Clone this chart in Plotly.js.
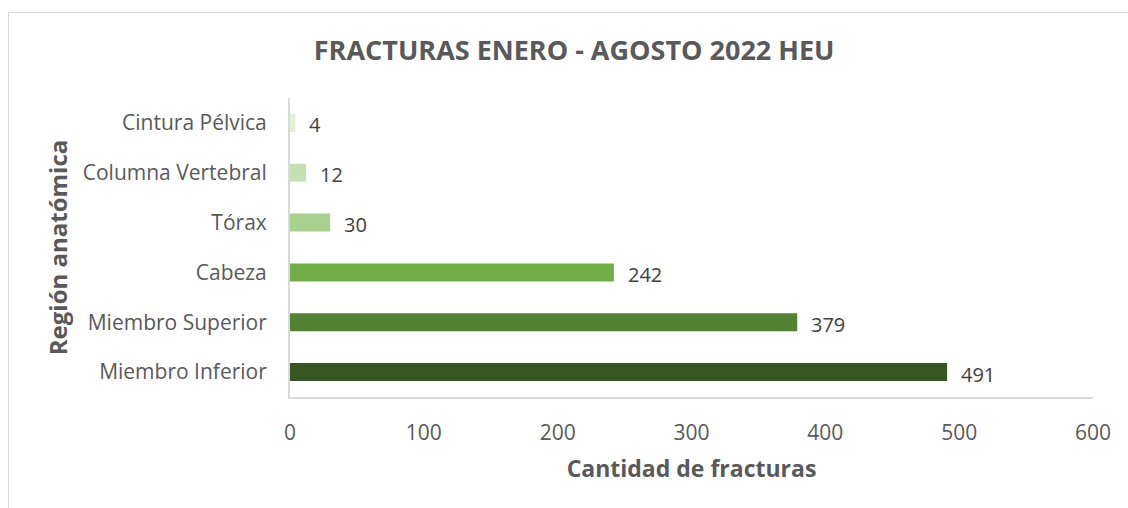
<!DOCTYPE html>
<html>
<head>
<meta charset="utf-8">
<script src="https://cdn.plot.ly/plotly-3.0.1.min.js"></script>
<style>
  html, body { margin: 0; padding: 0; background: #fff; }
  #wrap { position: relative; width: 1128px; height: 508px; overflow: hidden; }
  #chart { position: absolute; left: 0; top: 0; width: 1128px; height: 508px; }
  #frame { position: absolute; left: 8px; top: 12px; width: 1130px; height: 510px; border: 1px solid #d9d9d9; pointer-events: none; }
</style>
</head>
<body>
<div id="wrap">
  <div id="chart"></div>
  <div id="frame"></div>
</div>
<script>
const categories = ["Miembro Inferior", "Miembro Superior", "Cabeza", "Tórax", "Columna Vertebral", "Cintura Pélvica"];
const values = [491, 379, 242, 30, 12, 4];
const barColors = ["#385723", "#548235", "#70ad47", "#a9d18e", "#c5e0b3", "#e2efd9"];
const xTicks = [0, 100, 200, 300, 400, 500, 600];

const FONT = "'Open Sans', 'Noto Sans', sans-serif";

const trace = {
  type: "bar",
  orientation: "h",
  x: values,
  y: categories,
  marker: { color: barColors },
  width: 0.36,
  hoverinfo: "none"
};

const annotations = values.map((v, i) => ({
  x: v, y: categories[i], xref: "x", yref: "y",
  text: String(v), showarrow: false, xanchor: "left", yanchor: "middle",
  xshift: 12, yshift: -2,
  font: { family: FONT, size: 20, color: "#404040" }
}));

const layout = {
  width: 1128, height: 508,
  margin: { l: 290, r: 35, t: 98, b: 111 },
  paper_bgcolor: "#ffffff", plot_bgcolor: "#ffffff",
  showlegend: false,
  title: {
    text: "<b>FRACTURAS ENERO - AGOSTO 2022 HEU</b>",
    x: 0.509, xanchor: "center", y: 0.9, yanchor: "middle",
    font: { family: FONT, size: 27, color: "#595959" }
  },
  xaxis: {
    range: [0, 600], tickvals: xTicks, ticktext: xTicks.map(String),
    showgrid: false, zeroline: false,
    showline: true, linecolor: "#d9d9d9", linewidth: 2,
    ticks: "", ticklen: 0, ticklabelstandoff: 16,
    tickfont: { family: FONT, size: 21, color: "#595959" },
    title: { text: "<b>Cantidad de fracturas</b>", standoff: 16,
             font: { family: FONT, size: 23, color: "#595959" } },
    fixedrange: true
  },
  yaxis: {
    categoryorder: "array", categoryarray: categories,
    showgrid: false, zeroline: false,
    showline: true, linecolor: "#d9d9d9", linewidth: 2,
    ticks: "", ticklen: 0, ticklabelstandoff: 17,
    tickfont: { family: FONT, size: 21, color: "#595959" },
    title: { text: "<b>Región anatómica</b>", standoff: 8,
             font: { family: FONT, size: 24, color: "#595959" } },
    fixedrange: true
  },
  annotations: annotations
};

Plotly.newPlot("chart", [trace], layout, { displayModeBar: false, staticPlot: true });
</script>
</body>
</html>
